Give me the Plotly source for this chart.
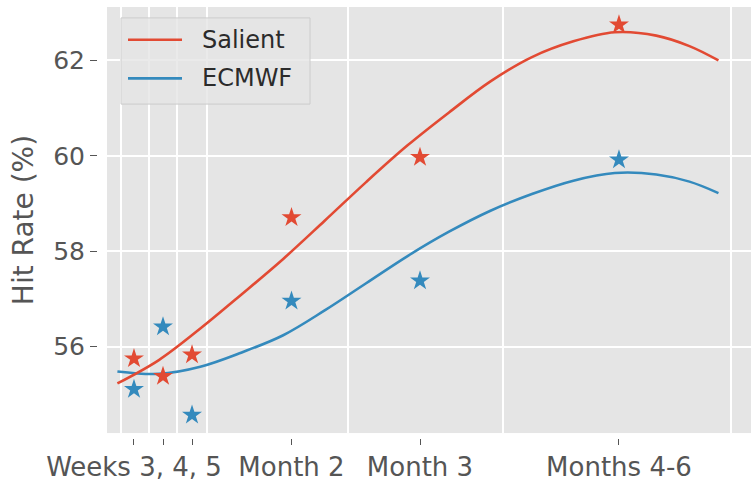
import plotly.graph_objects as go

# Forecast horizons, placed on a lead-time axis (days)
tick_days = [21, 28, 35, 59, 90, 138]
tick_labels = ["Weeks 3, 4, 5", "", "", "Month 2", "Month 3", "Months 4-6"]

# Hit rate (%) at each horizon
salient_hits = [55.75, 55.38, 55.83, 58.71, 59.97, 62.75]
ecmwf_hits = [55.11, 56.42, 54.57, 56.96, 57.38, 59.92]

# Smoothed trend of each model across lead time
trend_days = [17, 27, 37, 47, 57, 67, 77, 87, 97, 107, 117, 127, 137,
              147, 155, 162]
salient_trend = [55.23, 55.72, 56.38, 57.10, 57.84, 58.64, 59.45, 60.22,
                 60.91, 61.56, 62.07, 62.40, 62.59, 62.52, 62.30, 62.00]
ecmwf_trend = [55.48, 55.43, 55.58, 55.88, 56.24, 56.76, 57.33, 57.90,
               58.41, 58.85, 59.20, 59.48, 59.64, 59.61, 59.46, 59.22]

# Vertical grid boundaries between horizons
grid_days = [17.9, 24.6, 31.4, 38.6, 72.6, 110.0, 165.0]
y_ticks = [56, 58, 60, 62]

RED = "#E24A33"
BLUE = "#348ABD"
GRAY = "#555555"
FONT = "DejaVu Sans"

W, H = 751, 482
ML, MR, MT, MB = 97, 0, 7, 40
PW, PH = W - ML - MR, H - MT - MB


def px(x):
    return (x - ML) / PW


def py(y):
    return (H - MB - y) / PH


fig = go.Figure()
fig.add_trace(go.Scatter(x=trend_days, y=ecmwf_trend, mode="lines",
                         line=dict(color=BLUE, width=2.6, shape="spline"),
                         showlegend=False))
fig.add_trace(go.Scatter(x=trend_days, y=salient_trend, mode="lines",
                         line=dict(color=RED, width=2.6, shape="spline"),
                         showlegend=False))
fig.add_trace(go.Scatter(x=tick_days, y=ecmwf_hits, mode="markers",
                         marker=dict(symbol="star", size=15, color=BLUE,
                                     line=dict(width=0)),
                         showlegend=False))
fig.add_trace(go.Scatter(x=tick_days, y=salient_hits, mode="markers",
                         marker=dict(symbol="star", size=15, color=RED,
                                     line=dict(width=0)),
                         showlegend=False))

# Legend box drawn as shapes + text
shapes = [dict(type="rect", xref="paper", yref="paper",
               x0=px(121), x1=px(310), y0=py(105), y1=py(18),
               fillcolor="rgba(229,229,229,0.8)",
               line=dict(color="#CCCCCC", width=1))]
annotations = []
for name, color, yc in [("Salient", RED, 40), ("ECMWF", BLUE, 79)]:
    shapes.append(dict(type="line", xref="paper", yref="paper",
                       x0=px(128), x1=px(182), y0=py(yc), y1=py(yc),
                       line=dict(color=color, width=2.6)))
    annotations.append(dict(text=name, xref="paper", yref="paper",
                            x=px(200), y=py(yc), xanchor="left",
                            yanchor="middle", showarrow=False,
                            font=dict(family=FONT, size=24, color="#2b2b2b")))

fig.update_layout(
    width=W, height=H,
    margin=dict(l=ML, r=MR, t=MT, b=MB),
    paper_bgcolor="white",
    plot_bgcolor="#E5E5E5",
    font=dict(family=FONT, color=GRAY),
    shapes=shapes,
    annotations=annotations,
    xaxis=dict(
        domain=[10 / PW, 1], anchor="free", position=0,
        range=[14.49, 169.85],
        tickmode="array", tickvals=tick_days, ticktext=tick_labels,
        ticks="outside", ticklen=6, tickwidth=1.3, tickcolor=GRAY,
        tickfont=dict(family=FONT, size=26, color=GRAY),
        showgrid=False, zeroline=False, showline=False,
        minor=dict(tickmode="array", tickvals=grid_days, showgrid=True,
                   gridcolor="white", gridwidth=1.6, ticks=""),
    ),
    yaxis=dict(
        domain=[5 / PH, 1], anchor="free", position=0,
        range=[54.19, 63.12],
        tickmode="array", tickvals=y_ticks,
        ticks="outside", ticklen=7, tickwidth=1.3, tickcolor=GRAY,
        tickfont=dict(family=FONT, size=25, color=GRAY),
        showgrid=True, gridcolor="white", gridwidth=1.6,
        zeroline=False, showline=False,
        title=dict(text="Hit Rate (%)", standoff=10,
                   font=dict(family=FONT, size=28, color=GRAY)),
    ),
)

fig.write_html("out.html")
